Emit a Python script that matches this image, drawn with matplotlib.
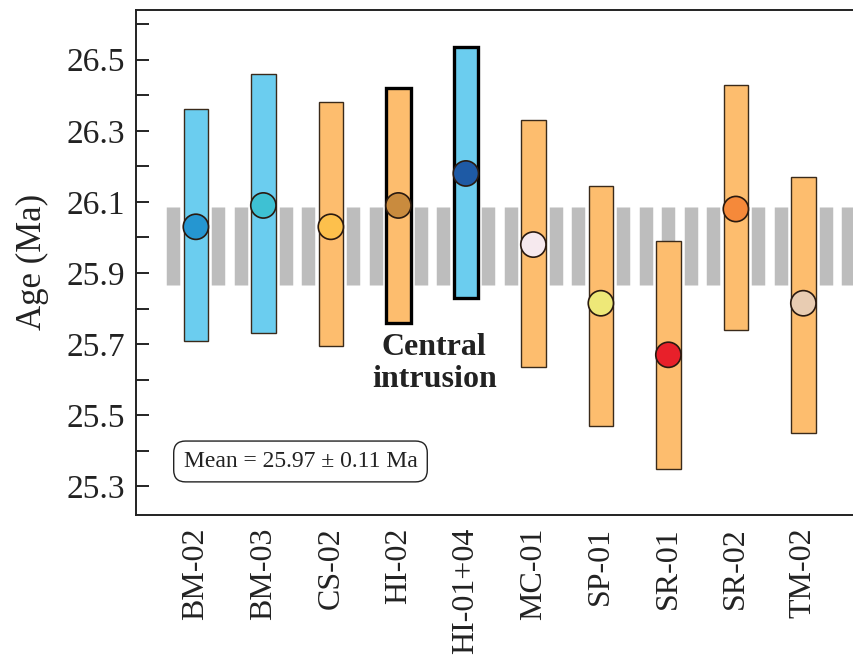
import numpy as np
import matplotlib.pyplot as plt

plt.rcParams["font.family"] = ["Liberation Serif", "DejaVu Serif"]

# U-Pb ages per sample (Ma)
samples = ["BM-02", "BM-03", "CS-02", "HI-02", "HI-01+04",
           "MC-01", "SP-01", "SR-01", "SR-02", "TM-02"]
age = [26.03, 26.09, 26.03, 26.09, 26.18, 25.98, 25.815, 25.67, 26.08, 25.815]
age_max = [26.36, 26.46, 26.38, 26.42, 26.535, 26.33, 26.145, 25.99, 26.43, 26.17]
age_min = [25.71, 25.73, 25.695, 25.76, 25.83, 25.635, 25.47, 25.35, 25.74, 25.45]
bar_colors = ["#6BCDEF", "#6BCDEF", "#FDBD6E", "#FDBD6E", "#6BCDEF",
              "#FDBD6E", "#FDBD6E", "#FDBD6E", "#FDBD6E", "#FDBD6E"]
dot_colors = ["#2596D1", "#3EC1D3", "#FDC04C", "#C98B3E", "#1E5AA5",
              "#F6E9EE", "#EEE878", "#E8202A", "#F5893A", "#E8CCB2"]
central = ["HI-02", "HI-01+04"]

mean_age = 25.975
mean_err = 0.11
yticks = [25.3, 25.5, 25.7, 25.9, 26.1, 26.3, 26.5]

fig = plt.figure(figsize=(8.54, 6.6), dpi=100)
ax = fig.add_axes([0.159, 0.22, 0.841, 0.765])
xlim = (-0.89, 9.75)

# dashed grey band = mean +/- error
stripes = np.arange(-1 / 3, xlim[1] + 0.2, 1 / 3)
ax.vlines(stripes, mean_age - mean_err, mean_age + mean_err,
          color="#BDBDBD", lw=9.7, zorder=1)

x = np.arange(len(samples))
heights = np.array(age_max) - np.array(age_min)
edge_w = [2.4 if s in central else 1.0 for s in samples]
edge_c = ["black" if s in central else "#3a2a1a" for s in samples]
ax.bar(x, heights, bottom=age_min, width=0.36, color=bar_colors,
       edgecolor=edge_c, linewidth=edge_w, zorder=2)
ax.scatter(x, age, s=330, c=dot_colors, edgecolors="#2a1a10",
           linewidths=1.2, zorder=3)

ax.text(3.53, 25.645, "Central\nintrusion", ha="center", va="center",
        fontsize=23, fontweight="bold", color="#222222", linespacing=1.12)
ax.text(1.55, 25.37, "Mean = 25.97 \u00b1 0.11 Ma", ha="center", va="center",
        fontsize=17, color="#222222",
        bbox=dict(boxstyle="round,pad=0.42,rounding_size=0.5",
                  fc="white", ec="#222222", lw=1.0))

ax.set_xlim(*xlim)
ax.set_ylim(25.22, 26.64)
ax.set_xticks(x)
ax.set_xticklabels(samples, rotation=90, fontsize=23, color="#222222")
ax.set_yticks(yticks)
ax.set_yticks(np.arange(25.4, 26.65, 0.2), minor=True)
ax.set_yticklabels([f"{v:.1f}" for v in yticks], fontsize=24, color="#222222")
ax.tick_params(axis="x", length=0, pad=9)
ax.tick_params(axis="y", which="both", direction="in", length=9, width=1.2,
               pad=8)
ax.set_ylabel("Age (Ma)", fontsize=25, color="#222222", labelpad=12)

ax.spines["right"].set_visible(False)
for side in ["left", "top", "bottom"]:
    ax.spines[side].set_linewidth(1.4)
    ax.spines[side].set_color("#222222")

plt.savefig("out.png", dpi=100)
